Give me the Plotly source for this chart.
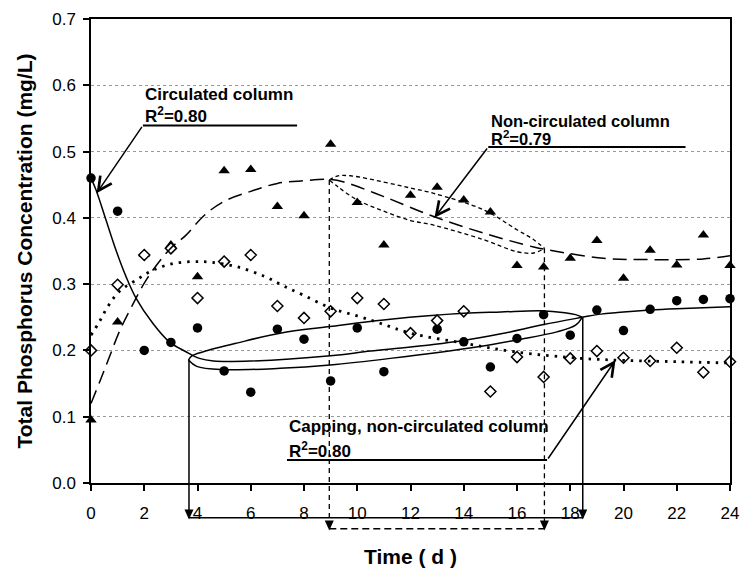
import plotly.graph_objects as go

# ---------------- data ----------------
days = list(range(25))
circulated = [0.46, 0.41, 0.20, 0.212, 0.234, 0.169, 0.137, 0.232, 0.217, 0.154, 0.234, 0.168, None,
              0.232, 0.213, 0.175, 0.218, 0.254, 0.223, 0.261, 0.230, 0.262, 0.275, 0.277, 0.278]
non_circulated = [0.095, 0.243, 0.345, 0.359, 0.311, 0.471, 0.473, 0.417, 0.403, 0.511, 0.423, 0.359, 0.434,
                  0.446, 0.427, 0.409, 0.328, 0.326, 0.339, 0.366, 0.309, 0.351, 0.329, 0.374, 0.328]
capping = [0.20, 0.299, 0.344, 0.354, 0.279, 0.334, 0.344, 0.267, 0.249, 0.259, 0.279, 0.270, 0.226,
           0.245, 0.259, 0.138, 0.19, 0.160, 0.188, 0.199, 0.189, 0.184, 0.204, 0.167, 0.183]

# trend lines
circ_trend_x = [0, 0.19, 0.56, 0.94, 1.32, 1.69, 2.32, 2.94, 3.57, 4.07, 4.6, 6, 9, 10.5, 12, 14, 15.4,
                17, 18.45, 19, 20, 21, 22, 24]
circ_trend_y = [0.46, 0.442, 0.397, 0.351, 0.311, 0.279, 0.241, 0.213, 0.198, 0.188, 0.184, 0.184, 0.192,
                0.199, 0.205, 0.215, 0.225, 0.239, 0.250, 0.254, 0.258, 0.261, 0.263, 0.266]
noncirc_trend_x = [0, 0.35, 0.69, 1.06, 1.5, 2.1, 2.94, 3.57, 4.26, 5, 6, 7, 8, 8.92, 9.5, 11, 12.87,
                   14.75, 16.63, 17.4, 19.25, 21, 23, 24]
noncirc_trend_y = [0.12, 0.155, 0.19, 0.228, 0.264, 0.308, 0.352, 0.374, 0.404, 0.425, 0.44, 0.452, 0.456,
                   0.458, 0.454, 0.432, 0.402, 0.377, 0.356, 0.350, 0.339, 0.337, 0.338, 0.343]
cap_trend_x = [0, 0.31, 0.63, 1.06, 1.69, 2.32, 3.07, 3.82, 4.5, 5.5, 6.5, 7.2, 8, 9, 10, 10.86, 12, 14,
               15.9, 18.4, 20, 22, 24]
cap_trend_y = [0.223, 0.243, 0.266, 0.289, 0.306, 0.321, 0.331, 0.334, 0.333, 0.326, 0.312, 0.298, 0.283,
               0.264, 0.252, 0.241, 0.226, 0.211, 0.198, 0.188, 0.185, 0.183, 0.181]

# highlight ellipses
solid_upper_x = [3.66, 3.8, 4.22, 5.47, 7.1, 8.98, 11.24, 14, 15.4, 16.9, 17.8, 18.2, 18.45]
solid_upper_y = [0.1855, 0.192, 0.198, 0.211, 0.226, 0.236, 0.247, 0.256, 0.258, 0.260, 0.257, 0.254, 0.250]
solid_lower_x = [3.66, 3.97, 4.97, 7.1, 8.98, 11.24, 14.6, 16, 17.5, 18.2, 18.45]
solid_lower_y = [0.1855, 0.176, 0.171, 0.173, 0.178, 0.188, 0.206, 0.216, 0.228, 0.238, 0.250]
dash_upper_x = [8.95, 9.24, 9.74, 10.99, 12, 12.87, 14.75, 16.0, 16.63, 17.03]
dash_upper_y = [0.457, 0.463, 0.4635, 0.454, 0.445, 0.437, 0.412, 0.382, 0.367, 0.354]
dash_lower_x = [8.95, 9.3, 10, 11, 12, 12.87, 14.75, 16.0, 16.63, 17.03]
dash_lower_y = [0.457, 0.446, 0.427, 0.41, 0.396, 0.389, 0.367, 0.349, 0.347, 0.354]

# bracket markers below the axis (data units)
solid_bracket = [3.68, 18.47]
solid_bracket_top = [0.1855, 0.250]
dash_bracket = [8.95, 17.03]
dash_bracket_top = [0.457, 0.354]
solid_bracket_y = -0.0523
solid_tip_y = -0.0550
dash_bracket_y = -0.0689
dash_tip_y = -0.0718

Y_MAX = 0.7
FONT = "Liberation Sans, Arial, sans-serif"

fig = go.Figure()

fig.add_trace(go.Scatter(x=days, y=circulated, mode='markers', cliponaxis=False,
                         marker=dict(symbol='circle', size=9.5, color='black')))
fig.add_trace(go.Scatter(x=days, y=non_circulated, mode='markers', cliponaxis=False,
                         marker=dict(symbol='triangle-up', size=10, color='black')))
fig.add_trace(go.Scatter(x=days, y=capping, mode='markers', cliponaxis=False,
                         marker=dict(symbol='diamond', size=8.5, color='white',
                                     line=dict(color='black', width=1.5))))

fig.add_trace(go.Scatter(x=circ_trend_x, y=circ_trend_y, mode='lines', line_shape='spline',
                         line=dict(color='black', width=1.5)))
fig.add_trace(go.Scatter(x=noncirc_trend_x, y=noncirc_trend_y, mode='lines', line_shape='spline',
                         line=dict(color='black', width=1.5, dash='14px,7px')))
fig.add_trace(go.Scatter(x=cap_trend_x, y=cap_trend_y, mode='lines', line_shape='spline',
                         line=dict(color='black', width=2.8, dash='2.5px,6px')))

for xs, ys in [(solid_upper_x, solid_upper_y), (solid_lower_x, solid_lower_y)]:
    fig.add_trace(go.Scatter(x=xs, y=ys, mode='lines', line_shape='spline',
                             line=dict(color='black', width=1.5)))
for xs, ys in [(dash_upper_x, dash_upper_y), (dash_lower_x, dash_lower_y)]:
    fig.add_trace(go.Scatter(x=xs, y=ys, mode='lines', line_shape='spline',
                             line=dict(color='black', width=1.3, dash='4px,3px')))

shapes = []
# verticals + horizontals of brackets (paper y so they're not clipped)
for x, top in zip(solid_bracket, solid_bracket_top):
    shapes.append(dict(type='line', xref='x', yref='paper', x0=x, x1=x, y0=top / Y_MAX,
                       y1=solid_bracket_y / Y_MAX, line=dict(color='black', width=1.5)))
    shapes.append(dict(type='path', xref='x', yref='paper', xsizemode='pixel', ysizemode='pixel',
                       xanchor=x, yanchor=solid_tip_y / Y_MAX, path='M-4.5,10 L4.5,10 L0,0 Z',
                       fillcolor='black', line=dict(width=0)))
shapes.append(dict(type='line', xref='x', yref='paper', x0=solid_bracket[0], x1=solid_bracket[1],
                   y0=solid_bracket_y / Y_MAX, y1=solid_bracket_y / Y_MAX, line=dict(color='black', width=1.5)))
for x, top in zip(dash_bracket, dash_bracket_top):
    shapes.append(dict(type='line', xref='x', yref='paper', x0=x, x1=x, y0=top / Y_MAX,
                       y1=dash_bracket_y / Y_MAX, line=dict(color='black', width=1.3, dash='5px,4px')))
    shapes.append(dict(type='path', xref='x', yref='paper', xsizemode='pixel', ysizemode='pixel',
                       xanchor=x, yanchor=dash_tip_y / Y_MAX, path='M-4.5,10 L4.5,10 L0,0 Z',
                       fillcolor='black', line=dict(width=0)))
shapes.append(dict(type='line', xref='x', yref='paper', x0=dash_bracket[0], x1=dash_bracket[1],
                   y0=dash_bracket_y / Y_MAX, y1=dash_bracket_y / Y_MAX,
                   line=dict(color='black', width=1.5, dash='7px,4px')))

# label underlines
underlines = [(1.95, 7.74, 0.5395), (14.92, 22.33, 0.507), (7.36, 17.13, 0.0347)]
for x0, x1, y in underlines:
    shapes.append(dict(type='line', xref='x', yref='y', x0=x0, x1=x1, y0=y, y1=y,
                       line=dict(color='black', width=2)))

annotations = []
labels = [("<b>Circulated column</b>", 1.95, 0.5867, 17),
          ("<b>R<sup>2</sup>=0.80</b>", 1.95, 0.555, 17),
          ("<b>Non-circulated column</b>", 14.96, 0.546, 16.5),
          ("<b>R<sup>2</sup>=0.79</b>", 14.96, 0.5205, 16.5),
          ("<b>Capping, non-circulated column</b>", 7.36, 0.085, 17),
          ("<b>R<sup>2</sup>=0.80</b>", 7.36, 0.0498, 17)]
for t, x, y, fs in labels:
    annotations.append(dict(text=t, x=x, y=y, xref='x', yref='y', xanchor='left', yanchor='middle',
                            showarrow=False, font=dict(size=fs, family=FONT, color='black')))
arrows = [((0.21, 0.437), (1.95, 0.5395)), ((12.9, 0.40), (14.92, 0.507)), ((19.7, 0.1855), (17.13, 0.0347))]
for (tx, ty), (sx, sy) in arrows:
    annotations.append(dict(text='', x=tx, y=ty, ax=sx, ay=sy, xref='x', yref='y', axref='x', ayref='y',
                            showarrow=True, arrowhead=5, arrowsize=1.8, arrowwidth=1.5,
                            arrowcolor='black', standoff=0))

fig.update_layout(width=741, height=569, margin=dict(l=91, r=11, t=19, b=86, autoexpand=False),
                  paper_bgcolor='white', plot_bgcolor='white', showlegend=False,
                  font=dict(family=FONT, color='black'), shapes=shapes, annotations=annotations)
fig.update_xaxes(range=[0, 24], tickvals=list(range(0, 25, 2)), ticks='outside', ticklen=6, tickwidth=1.5,
                 tickcolor='black', showline=True, linecolor='black', linewidth=1.5, mirror=True,
                 showgrid=False, zeroline=False, tickfont=dict(size=17, family=FONT), ticklabelstandoff=8,
                 automargin=False,
                 title=dict(text='<b>Time ( d )</b>', font=dict(size=21, family=FONT), standoff=27))
fig.update_yaxes(range=[0, Y_MAX], dtick=0.1, tickformat='.1f', ticks='outside', ticklen=6, tickwidth=1.5,
                 tickcolor='black', showline=True, linecolor='black', linewidth=1.5, mirror=True,
                 showgrid=True, gridcolor='#999999', griddash='dot', gridwidth=1, zeroline=False,
                 tickfont=dict(size=17, family=FONT), ticklabelstandoff=4, automargin=False,
                 title=dict(text='<b>Total Phosphorus Concentration (mg/L)</b>', font=dict(size=21, family=FONT),
                            standoff=14))

fig.write_html("out.html")
